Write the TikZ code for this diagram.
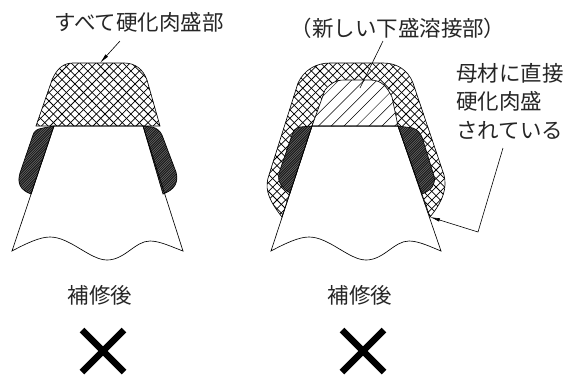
\documentclass[tikz,border=0pt]{standalone}
\usepackage{fontspec}
\setmainfont{Noto Sans CJK JP}
\usetikzlibrary{arrows.meta}
\tikzset{
  x=1pt,y=-1pt,
  lbl/.style={inner sep=0pt,font=\fontsize{21.5}{28.5}\selectfont,text=black!85},
  outl/.style={draw=black,line width=0.65pt},
  hl/.style={line width=0.75pt,black},
  leader/.style={line width=0.6pt,black},
  arr/.style={leader,-{Latex[length=10pt,width=3.5pt]}},
  cross/.style={line width=6.6pt,black}
}
\newcommand{\myxhatch}{%
  \foreach \a in {-396,-387.4,...,600}{
    \draw[hl] (\a,400) -- ++(400,-400);
    \draw[hl] (\a,0) -- ++(400,400);
  }}
\newcommand{\mydark}{%
  \foreach \a in {-400,-397.6,...,600}{\draw[line width=1.45pt,black!88] (\a,400) -- ++(400,-400);}}
\newcommand{\mysingle}{%
  \foreach \a in {-400,-387.3,...,600}{\draw[line width=0.5pt,black] (\a,400) -- ++(400,-400);}}
\begin{document}
\begin{tikzpicture}
\useasboundingbox (0,0) rectangle (574,376);
\fill[white] (0,0) rectangle (574,376);
% ---- left figure
\def\capL{(36,126) -- (52,80) .. controls (57,68) and (64,63) .. (73,63) -- (124,63) .. controls (135,63) and (143,69) .. (147,80) -- (160,126) -- cycle}
\begin{scope}\clip \capL; \myxhatch\end{scope}
\draw[outl] \capL;
\def\dLa{(54,126) -- (43,128) .. controls (37,129) and (34,131) .. (33,135) -- (20,173) .. controls (17,183) and (20,190) .. (31,194) -- cycle}
\def\dLb{(143,126) -- (152,127) .. controls (157,128) and (160,131) .. (162,135) -- (176,172) .. controls (179,183) and (174,190) .. (163,194) -- cycle}
\begin{scope}\clip \dLa; \mydark\end{scope}
\draw[outl] \dLa;
\begin{scope}\clip \dLb; \mydark\end{scope}
\draw[outl] \dLb;
\draw[outl] (54,126) -- (12,251) .. controls (27,243) and (40,237) .. (50,237) .. controls (70,237) and (90,260) .. (107,260) .. controls (125,260) and (135,241) .. (150,241) .. controls (160,241) and (172,247) .. (183,251) -- (143,126) -- cycle;
% ---- right figure
\def\capR{(282,217) .. controls (266,197) and (265,186) .. (269,175) -- (298,83) .. controls (304,70) and (316,63) .. (330,63) -- (383,63) .. controls (397,63) and (408,70) .. (413,83) -- (444,175) .. controls (447,187) and (444,200) .. (430,217) -- (398,126) -- (312,126) -- cycle}
\begin{scope}\clip \capR; \myxhatch\end{scope}
\draw[outl] \capR;
\def\wR{(312,126) -- (325,90) .. controls (330,84) and (335,80) .. (344,80) -- (370,80) .. controls (382,80) and (387,87) .. (392,97) -- (398,126) -- cycle}
\fill[white] \wR;
\begin{scope}\clip \wR; \mysingle\end{scope}
\draw[outl] \wR;
\def\dRa{(312,126) -- (300,127) .. controls (295,128) and (294,130) .. (292,135) -- (279,173) .. controls (277,182) and (282,188) .. (290,193) -- cycle}
\def\dRb{(398,126) -- (413,128) .. controls (418,130) and (420,133) .. (422,137) -- (434,176) .. controls (436,184) and (432,190) .. (422,194) -- cycle}
\fill[white] \dRa; \fill[white] \dRb;
\begin{scope}\clip \dRa; \mydark\end{scope}
\draw[outl] \dRa;
\begin{scope}\clip \dRb; \mydark\end{scope}
\draw[outl] \dRb;
\draw[outl] (312,126) -- (271,251) .. controls (286,243) and (299,237) .. (309,237) .. controls (329,237) and (349,260) .. (366,260) .. controls (384,260) and (394,241) .. (409,241) .. controls (419,241) and (431,247) .. (441,251) -- (398,126) -- cycle;
% ---- labels
\node[lbl,anchor=center] (t1) at (139,22) {すべて硬化肉盛部};
\node[lbl,anchor=center] (t2) at (398,28) {（新しい下盛溶接部）};
\node[lbl,anchor=north west,align=left] (t3) at (456,63) {母材に直接\\硬化肉盛\\されている};
\node[lbl] (t4) at (100,295) {補修後};
\node[lbl] (t5) at (360,295) {補修後};
% ---- leaders
\coordinate (l1a) at (120,41); \coordinate (l1b) at (100,63);
\draw[arr] (l1a) -- (l1b);
\coordinate (l2a) at (383,41); \coordinate (l2b) at (360,88);
\draw[leader] (l2a) -- (l2b);
\coordinate (l3a) at (503,148); \coordinate (l3b) at (478,232); \coordinate (l3c) at (430,217);
\draw[arr] (l3a) -- (l3b) -- (l3c);
% ---- crosses
\coordinate (xa) at (103,351); \coordinate (xb) at (363,351);
\foreach \c in {xa,xb}{
  \draw[cross] ([xshift=-21pt,yshift=21pt]\c) -- ([xshift=21pt,yshift=-21pt]\c);
  \draw[cross] ([xshift=-21pt,yshift=-21pt]\c) -- ([xshift=21pt,yshift=21pt]\c);
}
\end{tikzpicture}
\end{document}
